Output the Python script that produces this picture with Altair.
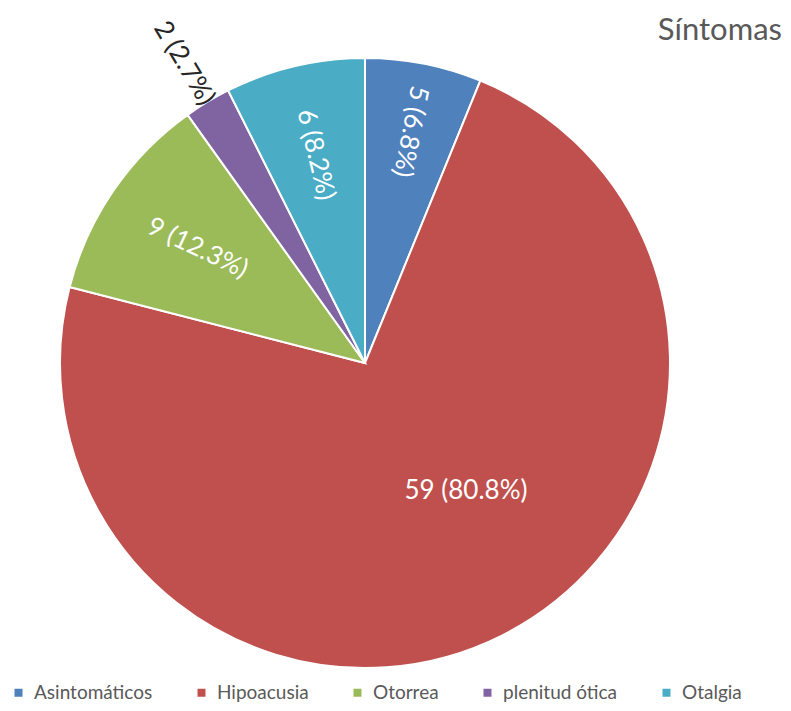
import altair as alt
import pandas as pd

cats = ["Asintomáticos", "Hipoacusia", "Otorrea", "plenitud ótica", "Otalgia"]
counts = [5, 59, 9, 2, 6]
pct_labels = ["6.8%", "80.8%", "12.3%", "2.7%", "8.2%"]
colors = ["#4F81BD", "#C0504D", "#9BBB59", "#8064A2", "#4BACC6"]
title_text = ["Síntomas"]

df = pd.DataFrame({
    "cat": cats,
    "n": counts,
    "pct": pct_labels,
    "o": list(range(len(cats))),
})
df["lab"] = [f"{n} ({p})" for n, p in zip(counts, pct_labels)]

CX, CY, R = 357, 355, 305
FONT = "Lato"

arcs = alt.Chart(df).mark_arc(outerRadius=R, stroke="white", strokeWidth=2).encode(
    theta=alt.Theta("n:Q", stack=True),
    order=alt.Order("o:Q"),
    x=alt.value(CX),
    y=alt.value(CY),
    color=alt.Color(
        "cat:N",
        scale=alt.Scale(domain=cats, range=colors),
        sort=cats,
        legend=alt.Legend(
            title=None,
            orient="none",
            legendX=1,
            legendY=675,
            direction="horizontal",
            columns=5,
            columnPadding=39,
            symbolType="square",
            symbolSize=64,
            symbolStrokeWidth=0,
            labelFont=FONT,
            labelFontSize=19,
            labelColor="#595959",
            labelOffset=6,
        ),
    ),
)

labels = alt.Chart(df).transform_joinaggregate(
    total="sum(n)"
).transform_window(
    cum="sum(n)", sort=[alt.SortField("o")], frame=[None, 0]
).transform_calculate(
    mid="(datum.cum - datum.n/2) / datum.total * 360",
    lt="datum.cat == 'Hipoacusia' ? datum.mid - 11.6 : datum.mid",
    ang="datum.cat == 'Hipoacusia' ? 0 : datum.cat == 'Otorrea' ? (datum.mid + 81) % 360 : (datum.mid + 90) % 360",
    lr="datum.cat == 'Asintomáticos' ? 236 : datum.cat == 'Hipoacusia' ? 163 : datum.cat == 'Otorrea' ? 203 : datum.cat == 'plenitud ótica' ? 350 : 214",
    inside="datum.cat != 'plenitud ótica'",
).mark_text(font=FONT, fontSize=26, align="center", baseline="middle").encode(
    x=alt.value(CX),
    y=alt.value(CY),
    theta=alt.Theta("lt:Q", stack=None, scale=alt.Scale(domain=[0, 360], range=[0, 6.283185307179586])),
    radius=alt.Radius("lr:Q", scale=None),
    angle=alt.Angle("ang:Q", scale=None),
    text="lab:N",
    color=alt.condition("datum.inside", alt.value("white"), alt.value("#262626")),
)

title = alt.Chart(pd.DataFrame({"t": title_text})).mark_text(
    font=FONT, fontSize=31, color="#595959", align="right", baseline="alphabetic"
).encode(x=alt.value(774), y=alt.value(32), text="t:N")

chart = alt.layer(arcs, labels, title).resolve_scale(
    theta="independent", radius="independent"
).properties(
    width=775, height=695, autosize=alt.AutoSizeParams(type="none"), padding=0
).configure_view(stroke=None)

chart.save("out.html", embed_options={"renderer": "svg", "actions": False})
